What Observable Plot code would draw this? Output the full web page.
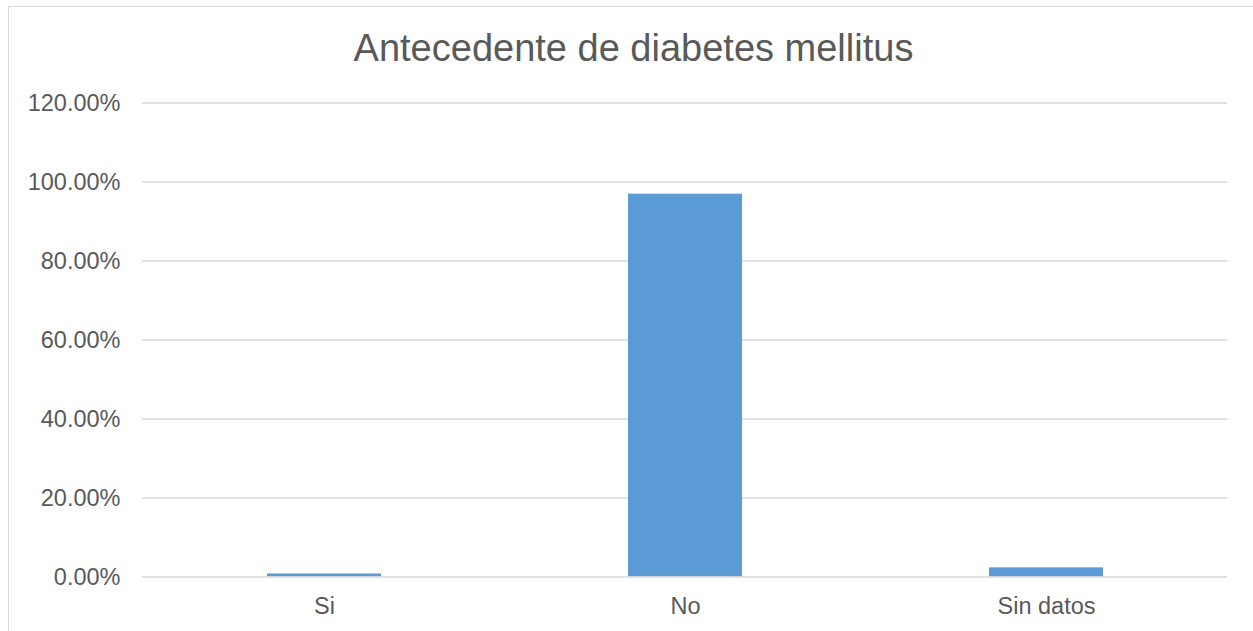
<!DOCTYPE html>
<html>
<head>
<meta charset="utf-8">
<script src="https://cdn.jsdelivr.net/npm/d3@7"></script>
<script src="https://cdn.jsdelivr.net/npm/@observablehq/plot@0.6"></script>
<style>
  html, body { margin: 0; padding: 0; background: #ffffff; }
  #wrap { position: relative; width: 1253px; height: 631px; overflow: hidden; background: #ffffff; }
  #frame { position: absolute; left: 8px; top: 6px; width: 1260px; height: 640px; border: 1.5px solid #d9d9d9; box-sizing: border-box; }
  #title { position: absolute; left: 9px; width: 1249px; top: 27px; text-align: center;
           font-family: "Liberation Sans", Arial, sans-serif; font-size: 38px; color: #595959; line-height: normal; }
  #chart { position: absolute; left: 0; top: 0; }
</style>
</head>
<body>
<div id="wrap">
  <div id="frame"></div>
  <div id="chart"></div>
  <div id="title">Antecedente de diabetes mellitus</div>
</div>
<script>
// Antecedente de diabetes mellitus: share of patients (%)
const categories = ["Si", "No", "Sin datos"];
const percentages = [0.77, 96.92, 2.31];
const yTicks = [0, 20, 40, 60, 80, 100, 120];

const rows = categories.map((c, i) => ({category: c, value: percentages[i]}));

const chart = Plot.plot({
  width: 1253,
  height: 631,
  marginLeft: 142,
  marginRight: 25.5,
  marginTop: 102.5,
  marginBottom: 54.5,
  style: {
    fontFamily: "'Liberation Sans', Arial, sans-serif",
    fontSize: "23.5px",
    color: "#595959",
    background: "transparent",
    overflow: "visible"
  },
  x: {
    domain: categories,
    paddingInner: 0.684,
    paddingOuter: 0.342,
    tickSize: 0,
    tickPadding: 20,
    label: null
  },
  y: {
    domain: [0, 120],
    ticks: yTicks,
    tickSize: 0,
    tickPadding: 22,
    tickFormat: d => d.toFixed(2) + "%",
    label: null
  },
  marks: [
    Plot.ruleY(yTicks.filter(t => t > 0), {stroke: "#d9d9d9", strokeWidth: 1.5}),
    Plot.barY(rows, {x: "category", y: "value", fill: "#5b9bd5"}),
    Plot.ruleY([0], {stroke: "#d9d9d9", strokeWidth: 1.5})
  ]
});

document.getElementById("chart").appendChild(chart);
</script>
</body>
</html>
